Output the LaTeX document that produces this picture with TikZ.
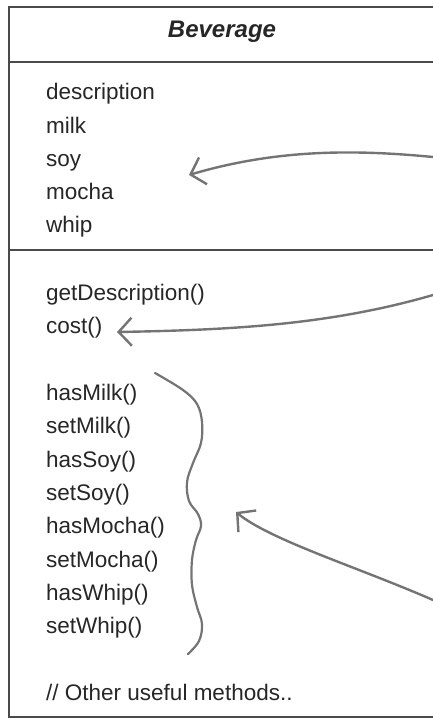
\documentclass[tikz,border=0pt]{standalone}
\usepackage{fontspec}
\setmainfont{Liberation Sans}
\usetikzlibrary{arrows.meta}
\definecolor{umlline}{HTML}{4A4A4A}
\definecolor{umltext}{HTML}{262626}
\definecolor{penline}{HTML}{747474}

\begin{document}
\begin{tikzpicture}[x=1pt, y=-1pt,
    member/.style={anchor=base west, inner sep=0pt, text=umltext,
                   font=\fontsize{22.5}{27}\selectfont},
    classname/.style={anchor=base, inner sep=0pt, text=umltext,
                      font=\fontsize{24}{29}\selectfont\bfseries\itshape},
    boxline/.style={draw=umlline, line width=1.6pt},
    pointer/.style={draw=penline, line width=2.4pt, line cap=round,
                    -{Straight Barb[length=13pt, width=28pt, line width=2.4pt]}},
    squiggle/.style={draw=penline, line width=2.2pt, line cap=round, line join=round},
]
    \useasboundingbox (0,0) rectangle (433,719);

    % class box, open on the right
    \draw[boxline] (433,7) -- (9,7) -- (9,717) -- (433,717);
    \draw[boxline] (9,62) -- (433,62);
    \draw[boxline] (9,250) -- (433,250);

    \node[classname] (name) at (222,38) {Beverage};

    % fields
    \node[member] (description) at (46,100) {description};
    \node[member] (milk)        at (46,134) {milk};
    \node[member] (soy)         at (46,167) {soy};
    \node[member] (mocha)       at (46,200) {mocha};
    \node[member] (whip)        at (46,233) {whip};

    % methods
    \node[member] (getdesc)  at (46,300) {getDescription()};
    \node[member] (cost)     at (46,333) {cost()};
    \node[member] (hasmilk)  at (46,400) {hasMilk()};
    \node[member] (setmilk)  at (46,433) {setMilk()};
    \node[member] (hassoy)   at (46,467) {hasSoy()};
    \node[member] (setsoy)   at (46,500) {setSoy()};
    \node[member] (hasmocha) at (46,533) {hasMocha()};
    \node[member] (setmocha) at (46,567) {setMocha()};
    \node[member] (haswhip)  at (46,600) {hasWhip()};
    \node[member] (setwhip)  at (46,633) {setWhip()};
    \node[member] (other)    at (46,700) {// Other useful methods..};

    % hand drawn pointers from the right margin
    \coordinate (fieldsfrom) at (433,157);
    \coordinate (fieldsto)   at (189,175);
    \coordinate (costfrom)   at (433,295);
    \coordinate (costto)     at (117,332);
    \coordinate (extrafrom)  at (433,600);
    \coordinate (extrato)    at (236,512);

    \draw[pointer] (fieldsfrom) .. controls (360,150) and (280,148) .. (fieldsto);
    \draw[pointer] (costfrom) .. controls (330,325) and (230,330) .. (costto);
    \draw[pointer] (extrafrom) .. controls (360,568) and (270,540) .. (extrato);

    % brace round the getters and setters
    \draw[squiggle] plot[smooth, tension=0.6] coordinates {
        (155,373) (183,390) (197,404) (202,422) (201,443) (193,463)
        (187,482) (189,501) (198,514) (201,526) (196,540) (192,560)
        (192,585) (197,607) (202,624) (199,641) (188,654)};
\end{tikzpicture}
\end{document}
